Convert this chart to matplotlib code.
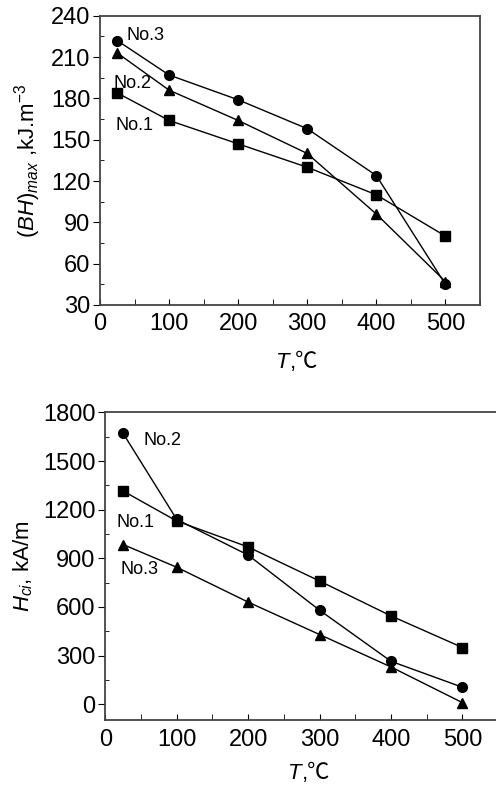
import matplotlib.pyplot as plt
from matplotlib.ticker import MultipleLocator

plt.rcParams['font.family'] = ['Liberation Sans', 'Noto Sans CJK SC', 'DejaVu Sans']
plt.rcParams['mathtext.fontset'] = 'custom'
plt.rcParams['mathtext.rm'] = 'Liberation Sans'
plt.rcParams['mathtext.it'] = 'Liberation Sans:italic'

T = [25, 100, 200, 300, 400, 500]

# (BH)max, kJ/m^3
bh_no1 = [184, 164, 147, 130, 110, 80]
bh_no2 = [213, 186, 164, 140, 96, 47]
bh_no3 = [222, 197, 179, 158, 124, 45]

# Hci, kA/m
hc_no1 = [1315, 1130, 970, 760, 545, 350]
hc_no2 = [1670, 1140, 920, 580, 265, 105]
hc_no3 = [985, 845, 630, 430, 230, 10]

fig = plt.figure(figsize=(4.96, 7.9), dpi=100)
ax1 = fig.add_axes([0.2016, 0.614, 0.766, 0.366])
ax2 = fig.add_axes([0.2123, 0.088, 0.792, 0.390])

kw = dict(color='black', lw=1.0, ms=7)


def style(ax):
    for s in ax.spines.values():
        s.set_color('#444444')
        s.set_linewidth(1.3)
    ax.set_xlim(0, 550)
    ax.xaxis.set_major_locator(MultipleLocator(100))
    ax.xaxis.set_minor_locator(MultipleLocator(50))
    ax.tick_params(axis='x', which='both', direction='in', length=4, labelsize=17, pad=6)
    ax.tick_params(axis='y', which='major', direction='out', length=5, labelsize=17, pad=2)
    ax.tick_params(axis='y', which='minor', direction='in', length=3)


def t_label(ax, y):
    # italic T followed by ",℃" (℃ comes from the CJK font)
    ax.text(0.5, y, 'T', style='italic', fontsize=16, ha='right', va='center',
            transform=ax.transAxes)
    ax.text(0.5, y, ',℃', fontsize=16, ha='left', va='center', transform=ax.transAxes)


ax1.plot(T, bh_no3, marker='o', **kw)
ax1.plot(T, bh_no2, marker='^', **kw)
ax1.plot(T, bh_no1, marker='s', **kw)
style(ax1)
ax1.set_ylim(30, 240)
ax1.yaxis.set_major_locator(MultipleLocator(30))
ax1.yaxis.set_minor_locator(MultipleLocator(15))
t_label(ax1, -0.2)
ax1.set_ylabel(r'$(\it{BH})_{\it{max}}$ ,kJ.m$^{-3}$', fontsize=16, labelpad=6)
ax1.text(39, 226, 'No.3', fontsize=13, va='center')
ax1.text(19, 191, 'No.2', fontsize=13, va='center')
ax1.text(22, 160, 'No.1', fontsize=13, va='center')

ax2.plot(T, hc_no2, marker='o', **kw)
ax2.plot(T, hc_no1, marker='s', **kw)
ax2.plot(T, hc_no3, marker='^', **kw)
style(ax2)
ax2.set_ylim(-100, 1800)
ax2.yaxis.set_major_locator(MultipleLocator(300))
ax2.yaxis.set_minor_locator(MultipleLocator(150))
t_label(ax2, -0.172)
ax2.set_ylabel(r'$\it{H}_{ci}$, kA/m', fontsize=16, labelpad=6)
ax2.text(53, 1624, 'No.2', fontsize=13, va='center')
ax2.text(15, 1121, 'No.1', fontsize=13, va='center')
ax2.text(21, 830, 'No.3', fontsize=13, va='center')

fig.savefig('out.png', dpi=100)
